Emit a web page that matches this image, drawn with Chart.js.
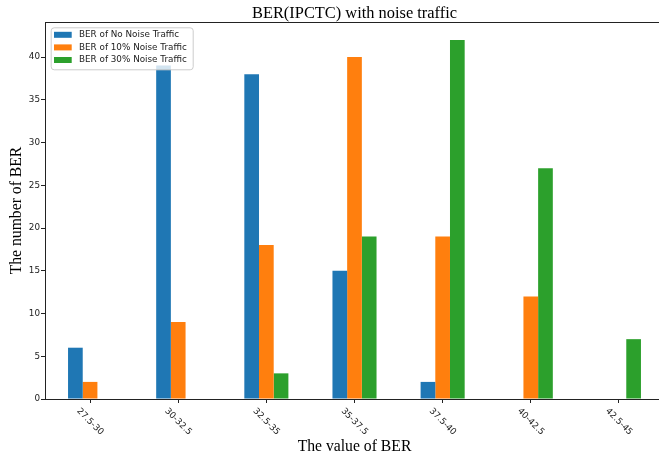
<!DOCTYPE html>
<html>
<head>
<meta charset="utf-8">
<title>BER(IPCTC) with noise traffic</title>
<script src="https://cdn.jsdelivr.net/npm/chart.js@4.4.0/dist/chart.umd.min.js"></script>
<style>
  html, body { margin: 0; padding: 0; background: #fff; overflow: hidden; }
  #wrap { width: 659px; height: 458px; overflow: hidden; }
  canvas { display: block; }
</style>
</head>
<body>
<div id="wrap"><canvas id="berChart" width="663" height="458"></canvas></div>
<script>
// BER ranges on the x axis
const categories = ['27.5-30', '30-32.5', '32.5-35', '35-37.5', '37.5-40', '40-42.5', '42.5-45'];

// Number of BER samples per range, one array per traffic case
const noNoise = [6, 39, 38, 15, 2, 0, 0];
const noise10 = [2, 9, 18, 40, 19, 12, 0];
const noise30 = [0, 0, 3, 19, 42, 27, 7];

const seriesNames = ['BER of No Noise Traffic', 'BER of 10% Noise Traffic', 'BER of 30% Noise Traffic'];
const yTicks = [0, 5, 10, 15, 20, 25, 30, 35, 40];
const yMax = 44.1;

const titleText = 'BER(IPCTC) with noise traffic';
const xTitle = 'The value of BER';
const yTitle = 'The number of BER';

// Colors (matplotlib defaults)
const blue = '#1f77b4';
const orange = '#ff7f0e';
const green = '#2ca02c';
const axisColor = '#222';

const sansFont = '"DejaVu Sans", sans-serif';
const serifFont = '"Liberation Serif", "Times New Roman", serif';
const tickSize = 8.8;

// Draws the frame, rotated x labels, titles and the legend inside the plot
const decorPlugin = {
    id: 'decor',
    afterDraw(chart) {
        const ctx = chart.ctx;
        const area = chart.chartArea;
        const xScale = chart.scales.x;
        ctx.save();

        // box around the plot
        ctx.strokeStyle = axisColor;
        ctx.lineWidth = 1;
        ctx.strokeRect(Math.round(area.left) - 0.5, Math.round(area.top) + 0.5,
            Math.round(area.right - area.left) + 1, Math.round(area.bottom - area.top));

        // x tick labels, turned 45 degrees clockwise and centred on the tick
        ctx.font = tickSize + 'px ' + sansFont;
        ctx.fillStyle = axisColor;
        ctx.textAlign = 'center';
        ctx.textBaseline = 'middle';
        categories.forEach((label, i) => {
            const x = xScale.getPixelForTick(i);
            const w = ctx.measureText(label).width;
            const half = (w + 9) / (2 * Math.SQRT2);
            ctx.save();
            ctx.translate(x, area.bottom + 7.5 + half);
            ctx.rotate(Math.PI / 4);
            ctx.fillText(label, 0, 0);
            ctx.restore();
        });

        const midX = (area.left + area.right) / 2;

        // title
        ctx.font = '16.4px ' + serifFont;
        ctx.fillStyle = '#000';
        ctx.textBaseline = 'alphabetic';
        ctx.fillText(titleText, midX, 18);

        // axis titles
        ctx.font = '15.7px ' + serifFont;
        ctx.fillText(xTitle, midX, 451);
        ctx.save();
        ctx.translate(16.5, (area.top + area.bottom) / 2);
        ctx.rotate(-Math.PI / 2);
        ctx.textBaseline = 'middle';
        ctx.fillText(yTitle, 0, 0);
        ctx.restore();

        // legend
        const lx = area.left + 4.7;
        const ly = area.top + 5.3;
        ctx.beginPath();
        ctx.roundRect(lx + 0.5, ly + 0.5, 142, 42, 3);
        ctx.fillStyle = 'rgba(255, 255, 255, 0.8)';
        ctx.fill();
        ctx.strokeStyle = '#cccccc';
        ctx.stroke();
        ctx.font = tickSize + 'px ' + sansFont;
        ctx.textAlign = 'left';
        ctx.textBaseline = 'middle';
        chart.data.datasets.forEach((ds, i) => {
            const rowY = ly + 7.5 + i * 12.6;
            ctx.fillStyle = ds.backgroundColor;
            ctx.fillRect(lx + 3.3, rowY - 3, 17.7, 6);
            ctx.fillStyle = axisColor;
            ctx.fillText(ds.label, lx + 28.3, rowY);
        });

        ctx.restore();
    }
};

document.addEventListener('DOMContentLoaded', function() {
    const ctx = document.getElementById('berChart').getContext('2d');

    new Chart(ctx, {
        type: 'bar',
        data: {
            labels: categories,
            datasets: [
                { label: seriesNames[0], data: noNoise, backgroundColor: blue },
                { label: seriesNames[1], data: noise10, backgroundColor: orange },
                { label: seriesNames[2], data: noise30, backgroundColor: green }
            ]
        },
        options: {
            responsive: false,
            animation: false,
            categoryPercentage: 0.5,
            barPercentage: 1.0,
            layout: {
                padding: { top: 22, right: 0, bottom: 0, left: 0 }
            },
            scales: {
                x: {
                    offset: true,
                    grid: {
                        offset: false,
                        drawOnChartArea: false,
                        drawTicks: true,
                        tickLength: 4,
                        tickColor: axisColor
                    },
                    border: { display: false },
                    ticks: { display: false },
                    afterFit: scale => { scale.height = 59; }
                },
                y: {
                    min: 0,
                    max: yMax,
                    grid: {
                        drawOnChartArea: false,
                        drawTicks: true,
                        tickLength: 5,
                        tickColor: axisColor
                    },
                    border: { display: false },
                    ticks: {
                        padding: 1,
                        color: axisColor,
                        font: { family: 'DejaVu Sans', size: tickSize }
                    },
                    afterBuildTicks: scale => {
                        scale.ticks = yTicks.map(v => ({ value: v }));
                    },
                    afterFit: scale => { scale.width = 46; }
                }
            },
            plugins: {
                legend: { display: false },
                title: { display: false },
                tooltip: { enabled: false }
            }
        },
        plugins: [decorPlugin]
    });
});
</script>
</body>
</html>
